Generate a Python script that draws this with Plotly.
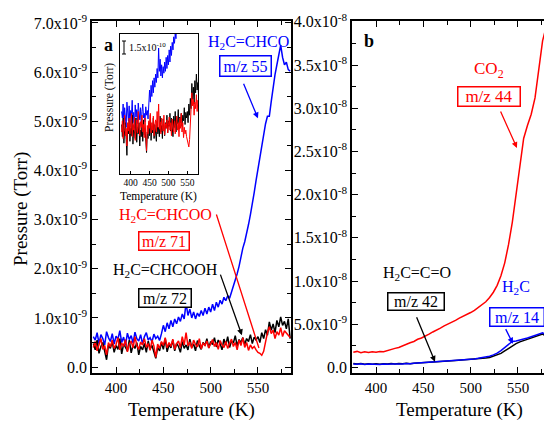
import plotly.graph_objects as go

# The page body adds an 8 px margin, so the figure is placed at (8, 8)
OFF = 8
W, H = 552 - OFF, 422 - OFF


def px(x):
    return (x - OFF) / W


def py(y):
    return 1 - (y - OFF) / H


SERIF = "Liberation Serif"

# ---------------- Panel a data (pressure in units of 1e-9 Torr) ----------------
temp_a = [376, 378, 380, 382, 384, 386, 388, 390, 392, 394,
          396, 398, 400, 402, 404, 406, 408, 410, 412, 414,
          416, 418, 420, 422, 424, 426, 428, 430, 432, 434,
          436, 438, 440, 442, 444, 446, 448, 450, 452, 454,
          456, 458, 460, 462, 464, 466, 468, 470, 472, 474,
          476, 478, 480, 482, 484, 486, 488, 490, 492, 494,
          496, 498, 500, 502, 504, 506, 508, 510, 512, 514,
          516, 518, 520, 522, 524, 526, 528, 530, 532, 534,
          536, 538, 540, 542, 544, 546, 548, 550, 552, 554,
          556, 558, 560, 562, 564, 566, 568, 570, 572, 574,
          576, 578, 580, 582, 584]

p_mz55 = [0.62, 0.55, 0.70, 0.48, 0.66, 0.58, 0.45, 0.72, 0.60, 0.52,
          0.68, 0.47, 0.63, 0.57, 0.74, 0.50, 0.61, 0.44, 0.69, 0.56,
          0.64, 0.49, 0.71, 0.58, 0.53, 0.66, 0.47, 0.62, 0.70, 0.55,
          0.60, 0.51, 0.67, 0.58, 0.63, 0.54, 0.68, 0.85, 0.72, 0.90,
          0.78, 0.95, 0.82, 0.98, 0.88, 1.02, 0.93, 1.08, 0.98, 1.30,
          1.05, 1.18, 1.00, 1.12, 0.98, 1.10, 1.03, 1.15, 1.05, 1.20,
          1.08, 1.22, 1.12, 1.28, 1.15, 1.32, 1.22, 1.36, 1.28, 1.42,
          1.35, 1.45, 1.40, 1.52, 1.62, 1.75, 1.90, 2.05, 2.25, 2.42,
          2.55, 2.70, 2.90, 3.10, 3.30, 3.55, 3.80, 4.05, 4.25, 4.50,
          4.70, 4.95, 5.10, 5.10, 5.40, 5.70, 5.95, 6.15, 6.35, 6.55,
          6.30, 6.15, 6.20, 6.05, 6.02]

p_mz72 = [0.48, 0.35, 0.55, 0.28, 0.42, 0.50, 0.32, 0.15, 0.45, 0.38,
          0.52, 0.30, 0.44, 0.36, 0.58, 0.27, 0.47, 0.40, 0.33, 0.55,
          0.29, 0.45, 0.38, 0.50, 0.25, 0.42, 0.35, 0.48, 0.30, 0.53,
          0.37, 0.44, 0.28, 0.18, 0.40, 0.33, 0.50, 0.36, 0.58, 0.31,
          0.46, 0.39, 0.55, 0.33, 0.48, 0.42, 0.30, 0.52, 0.38, 0.45,
          0.35, 0.57, 0.40, 0.47, 0.33, 0.54, 0.43, 0.36, 0.50, 0.44,
          0.58, 0.39, 0.52, 0.46, 0.60, 0.41, 0.55, 0.48, 0.35, 0.57,
          0.45, 0.62, 0.40, 0.53, 0.49, 0.64, 0.43, 0.56, 0.50, 0.60,
          0.46, 0.58, 0.52, 0.66, 0.48, 0.61, 0.55, 0.62, 0.50, 0.70,
          0.58, 0.76, 0.65, 0.92, 0.75, 0.88, 0.70, 0.95, 0.82, 1.02,
          0.85, 0.93, 0.78, 0.98, 0.58]

p_mz71 = [0.40, 0.52, 0.33, 0.47, 0.58, 0.36, 0.44, 0.25, 0.50, 0.41,
          0.55, 0.38, 0.46, 0.60, 0.35, 0.49, 0.42, 0.56, 0.31, 0.47,
          0.53, 0.39, 0.62, 0.44, 0.36, 0.51, 0.45, 0.58, 0.40, 0.48,
          0.34, 0.55, 0.43, 0.20, 0.47, 0.38, 0.52, 0.44, 0.60, 0.39,
          0.50, 0.42, 0.57, 0.36, 0.48, 0.53, 0.40, 0.62, 0.45, 0.70,
          0.43, 0.51, 0.38, 0.55, 0.46, 0.41, 0.58, 0.37, 0.49, 0.44,
          0.53, 0.39, 0.47, 0.56, 0.42, 0.50, 0.36, 0.54, 0.45, 0.40,
          0.52, 0.38, 0.48, 0.57, 0.42, 0.50, 0.35, 0.55, 0.44, 0.60,
          0.40, 0.50, 0.34, 0.45, 0.38, 0.42, 0.35, 0.30, 0.28, 0.24,
          0.32, 0.55, 0.70, 0.82, 0.68, 0.75, 0.58, 0.72, 0.65, 0.80,
          0.62, 0.74, 0.70, 0.66, 0.60]

# ---------------- Panel b data (pressure in units of 1e-9 Torr) ----------------
temp_b = [376, 380, 384, 388, 392, 396, 400, 404, 408, 412,
          416, 420, 424, 428, 432, 436, 440, 444, 448, 452,
          456, 460, 464, 468, 472, 476, 480, 484, 488, 492,
          496, 500, 504, 508, 512, 516, 520, 524, 528, 532,
          536, 540, 544, 548, 552, 556, 560, 564, 568, 572,
          576, 580, 584]

p_mz44 = [1.75, 1.85, 1.70, 1.80, 1.72, 1.82, 1.75, 1.85, 1.80, 1.95,
          2.05, 2.20, 2.30, 2.50, 2.65, 2.85, 3.00, 3.25, 3.40, 3.60,
          3.85, 4.10, 4.30, 4.55, 4.80, 5.00, 5.25, 5.45, 5.70, 5.90,
          6.15, 6.35, 6.60, 6.95, 7.30, 7.60, 8.10, 8.70, 9.50, 10.6,
          12.1, 14.2, 16.8, 20.0, 23.8, 26.5, 28.0, 29.3, 31.2, 34.5,
          37.8, 39.5, 38.9]

p_mz42 = [0.45, 0.38, 0.44, 0.36, 0.42, 0.37, 0.43, 0.35, 0.41, 0.38,
          0.44, 0.39, 0.45, 0.41, 0.47, 0.43, 0.49, 0.51, 0.54, 0.57,
          0.60, 0.62, 0.65, 0.68, 0.70, 0.73, 0.77, 0.80, 0.83, 0.85,
          0.87, 0.90, 0.94, 0.98, 1.02, 1.08, 1.15, 1.28, 1.42, 1.62,
          1.90, 2.20, 2.50, 2.75, 2.95, 3.10, 3.25, 3.40, 3.55, 3.70,
          3.85, 3.60, 3.20]

p_mz14 = [0.40, 0.35, 0.42, 0.33, 0.38, 0.36, 0.41, 0.34, 0.39, 0.35,
          0.40, 0.37, 0.42, 0.38, 0.44, 0.41, 0.47, 0.50, 0.52, 0.55,
          0.58, 0.60, 0.62, 0.66, 0.68, 0.72, 0.75, 0.78, 0.82, 0.86,
          0.88, 0.92, 0.98, 1.05, 1.12, 1.20, 1.30, 1.45, 1.65, 1.95,
          2.30, 2.75, 3.00, 3.05, 3.15, 3.25, 3.40, 3.55, 3.70, 3.90,
          4.00, 3.75, 3.45]

# ---------------- Tick labels ----------------
x_ticks = [400, 450, 500, 550]
x_minor = [425, 475, 525, 575]
ya_ticks = [0, 1, 2, 3, 4, 5, 6, 7]
ya_text = ["0.0", "1.0x10<sup>-9</sup>", "2.0x10<sup>-9</sup>", "3.0x10<sup>-9</sup>",
           "4.0x10<sup>-9</sup>", "5.0x10<sup>-9</sup>", "6.0x10<sup>-9</sup>",
           "7.0x10<sup>-9</sup>"]
ya_minor = [0.5, 1.5, 2.5, 3.5, 4.5, 5.5, 6.5]
yb_ticks = [0, 5, 10, 15, 20, 25, 30, 35, 40]
yb_text = ["0.0", "5.0x10<sup>-9</sup>", "1.0x10<sup>-8</sup>", "1.5x10<sup>-8</sup>",
           "2.0x10<sup>-8</sup>", "2.5x10<sup>-8</sup>", "3.0x10<sup>-8</sup>",
           "3.5x10<sup>-8</sup>", "4.0x10<sup>-8</sup>"]
yb_minor = [2.5, 7.5, 12.5, 17.5, 22.5, 27.5, 32.5, 37.5]
inset_x_ticks = [400, 450, 500, 550]

BLUE = "#0000FF"
RED = "#FF0000"
BLACK = "#000000"

fig = go.Figure()

# Panel a
fig.add_trace(go.Scatter(x=temp_a, y=p_mz55, mode="lines", line=dict(color=BLUE, width=1.5),
                         xaxis="x", yaxis="y"))
fig.add_trace(go.Scatter(x=temp_a, y=p_mz72, mode="lines", line=dict(color=BLACK, width=1.5),
                         xaxis="x", yaxis="y"))
fig.add_trace(go.Scatter(x=temp_a, y=p_mz71, mode="lines", line=dict(color=RED, width=1.5),
                         xaxis="x", yaxis="y"))
# Panel b
fig.add_trace(go.Scatter(x=temp_b, y=p_mz44, mode="lines", line=dict(color=RED, width=1.5),
                         xaxis="x2", yaxis="y2"))
fig.add_trace(go.Scatter(x=temp_b, y=p_mz42, mode="lines", line=dict(color=BLACK, width=1.5),
                         xaxis="x2", yaxis="y2"))
fig.add_trace(go.Scatter(x=temp_b, y=p_mz14, mode="lines", line=dict(color=BLUE, width=1.5),
                         xaxis="x2", yaxis="y2"))
# Inset
fig.add_trace(go.Scatter(x=temp_a, y=p_mz55, mode="lines", line=dict(color=BLUE, width=1),
                         xaxis="x3", yaxis="y3"))
fig.add_trace(go.Scatter(x=temp_a, y=p_mz72, mode="lines", line=dict(color=BLACK, width=1),
                         xaxis="x3", yaxis="y3"))
fig.add_trace(go.Scatter(x=temp_a, y=p_mz71, mode="lines", line=dict(color=RED, width=1),
                         xaxis="x3", yaxis="y3"))

common = dict(showline=True, linecolor="black", linewidth=1.5, mirror="ticks",
              ticks="inside", ticklen=6, tickwidth=1.2, tickcolor="black",
              showgrid=False, zeroline=False)

xa = dict(common, range=[374.6, 584.9], tickmode="array", tickvals=x_ticks, tickangle=0,
          tickfont=dict(family=SERIF, size=15, color="black"),
          minor=dict(tickmode="array", tickvals=x_minor, ticks="inside", ticklen=4,
                     tickcolor="black", tickwidth=1.2))
yfont = dict(family=SERIF, size=16, color="black")

fig.update_layout(
    width=W, height=H,
    autosize=False,
    margin=dict(l=0, r=0, t=0, b=0),
    paper_bgcolor="white", plot_bgcolor="white",
    showlegend=False,
    template="none",
    font=dict(family=SERIF, color="black"),
    xaxis=dict(xa, domain=[px(92), px(291)], anchor="y"),
    yaxis=dict(common, domain=[py(373), py(21)], anchor="x", range=[-0.12, 7.04],
               tickmode="array", tickvals=ya_ticks, ticktext=ya_text, tickfont=yfont,
               minor=dict(tickmode="array", tickvals=ya_minor, ticks="inside", ticklen=4,
                          tickcolor="black", tickwidth=1.2)),
    xaxis2=dict(xa, domain=[px(352), px(551)], anchor="y2"),
    yaxis2=dict(common, domain=[py(373), py(21)], anchor="x2", range=[-0.65, 40.1],
                tickmode="array", tickvals=yb_ticks, ticktext=yb_text, tickfont=yfont,
                minor=dict(tickmode="array", tickvals=yb_minor, ticks="inside", ticklen=4,
                           tickcolor="black", tickwidth=1.2)),
    xaxis3=dict(showline=True, linecolor="black", linewidth=1, mirror=True,
                ticks="inside", ticklen=3, tickwidth=1, tickcolor="black",
                showgrid=False, zeroline=False, domain=[px(120), px(198)], anchor="y3",
                range=[371.7, 578.3], tickmode="array", tickvals=inset_x_ticks, tickangle=0,
                tickfont=dict(family=SERIF, size=9.5, color="black")),
    yaxis3=dict(showline=True, linecolor="black", linewidth=1, mirror=True,
                ticks="", showticklabels=False, showgrid=False, zeroline=False,
                domain=[py(174), py(34)], anchor="x3", range=[-0.05, 1.45]),
)

ann = []


def label(text, x, y, size=16, color="black", bold=False, angle=0):
    t = f"<b>{text}</b>" if bold else text
    ann.append(dict(text=t, x=px(x), y=py(y), xref="paper", yref="paper",
                    xanchor="center", yanchor="middle", showarrow=False,
                    textangle=angle, font=dict(family=SERIF, size=size, color=color)))


def boxed(text, x, y, w, h, color, size=16):
    ann.append(dict(text=text, x=px(x), y=py(y), xref="paper", yref="paper",
                    xanchor="center", yanchor="middle", showarrow=False,
                    width=w - 3, height=h - 3, borderpad=0, bordercolor=color,
                    borderwidth=1.5, bgcolor="white",
                    font=dict(family=SERIF, size=size, color=color)))


def arrow(xd, yd, axp, ayp, color, xref, yref, head=2):
    ann.append(dict(text="", x=xd, y=yd, xref=xref, yref=yref, showarrow=True,
                    ax=axp, ay=ayp, arrowhead=head, arrowsize=0.9, arrowwidth=1.3,
                    arrowcolor=color, standoff=0, startstandoff=0))


# axis titles
label("Pressure (Torr)", 21, 209, size=19, angle=-90)
label("Temperature (K)", 191, 410, size=19)
label("Temperature (K)", 459, 410, size=19)

# panel letters
label("a", 108, 45, size=18, bold=True)
label("b", 369, 41, size=18, bold=True)

# panel a labels
label("H<sub>2</sub>C=CHCO", 248, 42, color=BLUE)
boxed("m/z 55", 245, 66, 53, 22, BLUE)
arrow(550, 5.06, -15, -36, BLUE, "x", "y")

label("H<sub>2</sub>C=CHCOO", 165, 215, color=RED)
boxed("m/z 71", 164, 241, 52, 20, RED)
arrow(551, 0.39, -43, -135, RED, "x", "y", head=0)

label("H<sub>2</sub>C=CHCOOH", 165, 270, color=BLACK)
boxed("m/z 72", 165, 298, 54, 20, BLACK)
arrow(533, 0.65, -22, -62, BLACK, "x", "y")

# panel b labels
label("CO<sub>2</sub>", 489, 70, color=RED, size=17)
boxed("m/z 44", 489, 96, 64, 21, RED, size=17)
arrow(548.9, 25.4, -17, -38, RED, "x2", "y2")

label("H<sub>2</sub>C=C=O", 417, 273, color=BLACK)
boxed("m/z 42", 416, 301, 58, 19, BLACK)
arrow(462.3, 0.66, -19, -46, BLACK, "x2", "y2")

label("H<sub>2</sub>C", 516, 287, color=BLUE)
boxed("m/z 14", 517, 317, 56, 20, BLUE)
arrow(544.7, 2.75, -8, -16, BLUE, "x2", "y2")

# inset labels
label("Pressure (Torr)", 110, 98, size=11.5, angle=-90)
label("Temperature (K)", 158, 196, size=11.5)
ann.append(dict(text="1.5x10<sup>-10</sup>", x=px(127), y=py(47.5), xref="paper", yref="paper",
                xanchor="left", yanchor="middle", showarrow=False,
                font=dict(family=SERIF, size=10, color="black")))

fig.update_layout(annotations=ann)

# scale bar "I" in the inset
shapes = [
    dict(type="line", xref="paper", yref="paper", x0=px(124), x1=px(124), y0=py(41), y1=py(54),
         line=dict(color="black", width=1)),
    dict(type="line", xref="paper", yref="paper", x0=px(122), x1=px(126), y0=py(41), y1=py(41),
         line=dict(color="black", width=1)),
    dict(type="line", xref="paper", yref="paper", x0=px(122), x1=px(126), y0=py(54), y1=py(54),
         line=dict(color="black", width=1)),
]
fig.update_layout(shapes=shapes)

fig.write_html("out.html")
